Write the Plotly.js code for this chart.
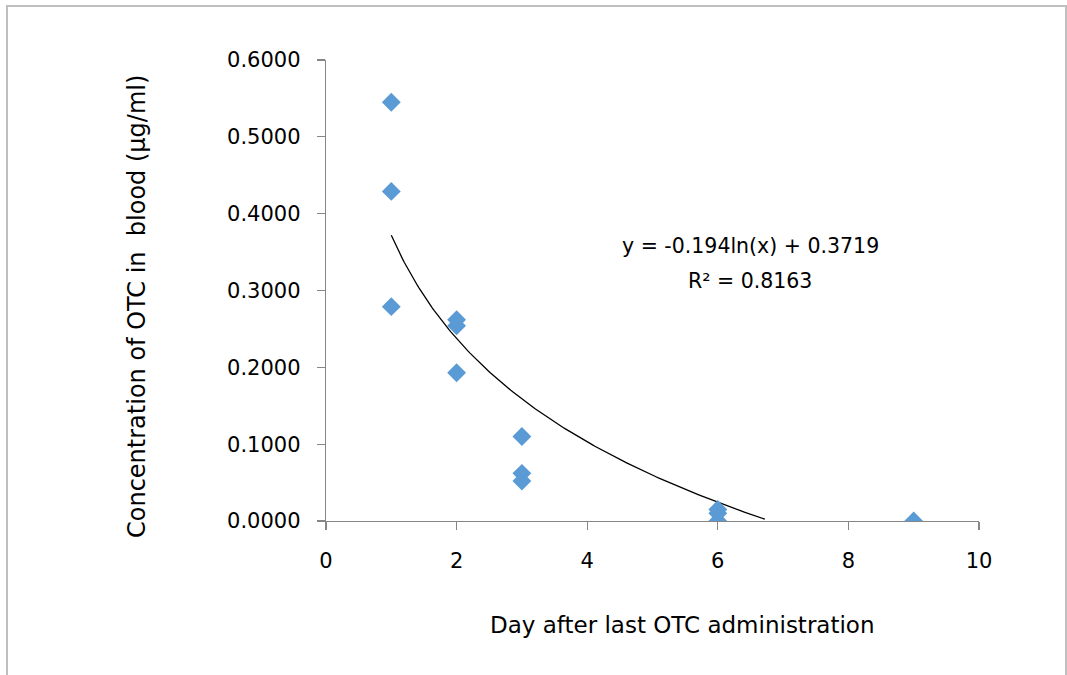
<!DOCTYPE html>
<html>
<head>
<meta charset="utf-8">
<script src="https://cdn.plot.ly/plotly-3.0.1.min.js"></script>
<style>
html,body{margin:0;padding:0;background:#fff;}
#chart{width:1067px;height:675px;}
</style>
</head>
<body>
<div id="chart"></div>
<script>
// Data
const days = [1, 1, 1, 2, 2, 2, 3, 3, 3, 6, 6, 6, 9];
const concentration = [0.545, 0.429, 0.279, 0.262, 0.254, 0.193, 0.110, 0.062, 0.052, 0.015, 0.010, 0.000, 0.000];
// Logarithmic trendline coefficients (from the displayed equation)
const trendSlope = -0.194;
const trendIntercept = 0.3719;
const trendXStart = 1;
const trendXEnd = 6.72;
const trendLabel = "y = -0.194ln(x) + 0.3719";
const r2Label = "R² = 0.8163";
const xTicks = [0, 2, 4, 6, 8, 10];
const yTicks = [0, 0.1, 0.2, 0.3, 0.4, 0.5, 0.6];
const xTitle = "Day after last OTC administration";
const yTitle = "Concentration of OTC in  blood (µg/ml)";

// Trendline curve sampled over its drawn range
const trendX = [], trendY = [];
for (let i = 0; i <= 200; i++) {
  const x = trendXStart + (trendXEnd - trendXStart) * i / 200;
  trendX.push(x);
  trendY.push(Math.max(0, trendSlope * Math.log(x) + trendIntercept));
}

const FONT = "'DejaVu Sans', sans-serif";

const traces = [
  {
    x: trendX, y: trendY, mode: 'lines', type: 'scatter',
    line: {color: '#000000', width: 1.3}, hoverinfo: 'skip', showlegend: false
  },
  {
    x: days, y: concentration, mode: 'markers', type: 'scatter',
    marker: {symbol: 'diamond', size: 14.5, color: '#5B9BD5', line: {width: 0}},
    showlegend: false
  }
];

const layout = {
  width: 1067, height: 675,
  margin: {l: 326, r: 88, t: 60, b: 154},
  paper_bgcolor: '#ffffff', plot_bgcolor: '#ffffff',
  showlegend: false,
  font: {family: FONT, color: '#000000', size: 20},
  xaxis: {
    range: [0, 10], tickvals: xTicks, ticktext: xTicks.map(String),
    showgrid: false, zeroline: false, showline: true, linecolor: '#868686', linewidth: 1.3,
    ticks: 'outside', ticklen: 8, tickcolor: '#868686', tickwidth: 1.3,
    tickfont: {family: FONT, size: 21, color: '#000'}, ticklabelstandoff: 12,
    fixedrange: true
  },
  yaxis: {
    range: [0, 0.6], tickvals: yTicks, ticktext: yTicks.map(v => v.toFixed(4)),
    showgrid: false, zeroline: false, showline: true, linecolor: '#868686', linewidth: 1.3,
    ticks: 'outside', ticklen: 8, tickcolor: '#868686', tickwidth: 1.3,
    tickfont: {family: FONT, size: 21, color: '#000'}, ticklabelstandoff: 12,
    fixedrange: true
  },
  annotations: [
    {text: trendLabel, xref: 'paper', yref: 'paper', x: (750 - 326) / 653, y: (521 - 246) / 461,
     showarrow: false, xanchor: 'center', yanchor: 'middle', font: {family: FONT, size: 20.5, color: '#000'}},
    {text: r2Label, xref: 'paper', yref: 'paper', x: (750 - 326) / 653, y: (521 - 281) / 461,
     showarrow: false, xanchor: 'center', yanchor: 'middle', font: {family: FONT, size: 20.5, color: '#000'}},
    {text: xTitle, xref: 'paper', yref: 'paper', x: (682 - 326) / 653, y: (521 - 625) / 461,
     showarrow: false, xanchor: 'center', yanchor: 'middle', font: {family: FONT, size: 23, color: '#000'}},
    {text: yTitle, xref: 'paper', yref: 'paper', x: (137 - 326) / 653, y: (521 - 307) / 461,
     showarrow: false, textangle: -90, xanchor: 'center', yanchor: 'middle', font: {family: FONT, size: 24, color: '#000'}}
  ],
  shapes: [
    {type: 'rect', xref: 'paper', yref: 'paper',
     x0: (7 - 326) / 653, x1: (1066 - 326) / 653, y0: (521 - 690) / 461, y1: (521 - 6) / 461,
     line: {color: '#bfbfbf', width: 2}, fillcolor: 'rgba(0,0,0,0)', layer: 'below'}
  ]
};

Plotly.newPlot('chart', traces, layout, {displayModeBar: false, staticPlot: true});
</script>
</body>
</html>
